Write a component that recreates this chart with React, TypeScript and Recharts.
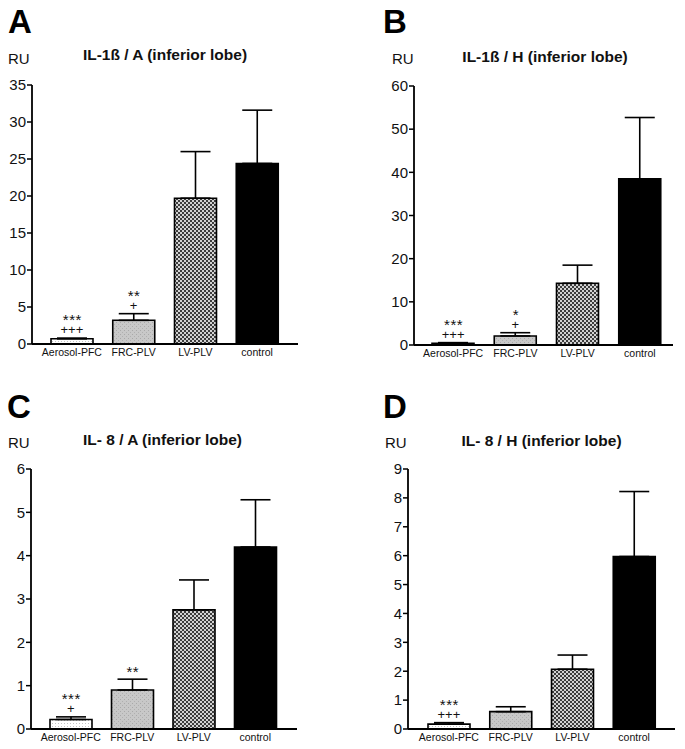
import { Bar, Cell, ComposedChart, ErrorBar, Line, XAxis, YAxis } from "recharts";

const categories = ["Aerosol-PFC", "FRC-PLV", "LV-PLV", "control"];

// panel A: IL-1ß / A
const il1bA = [0.7, 3.2, 19.7, 24.4];
const il1bAErr = [0.1, 0.9, 6.3, 7.2];
const il1bAStars = ["***", "**", "", ""];
const il1bAPlus = ["+++", "+", "", ""];
const il1bATicks = [0, 5, 10, 15, 20, 25, 30, 35];

// panel B: IL-1ß / H
const il1bH = [0.4, 2.1, 14.3, 38.5];
const il1bHErr = [0.15, 0.75, 4.2, 14.2];
const il1bHStars = ["***", "*", "", ""];
const il1bHPlus = ["+++", "+", "", ""];
const il1bHTicks = [0, 10, 20, 30, 40, 50, 60];

// panel C: IL-8 / A
const il8A = [0.22, 0.9, 2.75, 4.2];
const il8AErr = [0.06, 0.25, 0.69, 1.09];
const il8AStars = ["***", "**", "", ""];
const il8APlus = ["+", "", "", ""];
const il8ATicks = [0, 1, 2, 3, 4, 5, 6];

// panel D: IL-8 / H
const il8H = [0.17, 0.6, 2.07, 5.97];
const il8HErr = [0.05, 0.17, 0.49, 2.25];
const il8HStars = ["***", "", "", ""];
const il8HPlus = ["+++", "", "", ""];
const il8HTicks = [0, 1, 2, 3, 4, 5, 6, 7, 8, 9];

const ink = "#111";

function renderMark(p: any) {
  const { cx, cy, index, payload } = p;
  if (!payload || (!payload.stars && !payload.plus)) return <g key={`m-${index}`} />;
  const hasPlus = !!payload.plus;
  return (
    <g key={`m-${index}`} textAnchor="middle">
      {hasPlus && (
        <text x={cx} y={cy - 4} fontSize={13} fill={ink} stroke="none">
          {payload.plus}
        </text>
      )}
      <text
        x={cx + 0.5}
        y={hasPlus ? cy - 13 : cy - 2}
        fontSize={15}
        fill={ink}
        stroke="none"
        letterSpacing={0.5}
      >
        {payload.stars}
      </text>
    </g>
  );
}

type PanelProps = {
  id: string;
  left: number;
  top: number;
  width: number;
  margin: { top: number; right: number; left: number; bottom: number };
  yWidth: number;
  pad: { left: number; right: number };
  values: number[];
  errors: number[];
  stars: string[];
  plus: string[];
  ticks: number[];
};

function Panel({ id, left, top, width, margin, yWidth, pad, values, errors, stars, plus, ticks }: PanelProps) {
  const data = categories.map((name, i) => ({
    name,
    value: values[i],
    err: [0, errors[i]],
    top: values[i] + errors[i],
    stars: stars[i],
    plus: plus[i],
  }));
  const fills = [`url(#aer-${id})`, `url(#frc-${id})`, `url(#lv-${id})`, "#000"];

  return (
    <div style={{ position: "absolute", left, top }}>
      <ComposedChart width={width} height={300} data={data} margin={margin}>
        <defs>
          <pattern id={`aer-${id}`} width="3" height="3" patternUnits="userSpaceOnUse">
            <rect width="3" height="3" fill="#fff" />
            <rect x="1" y="1" width="1" height="1" fill="#c4c4c4" />
          </pattern>
          <pattern id={`frc-${id}`} width="4" height="4" patternUnits="userSpaceOnUse">
            <rect width="4" height="4" fill="#c8c8c8" />
            <rect x="0" y="0" width="1" height="1" fill="#a9a9a9" />
            <rect x="2" y="2" width="1" height="1" fill="#b0b0b0" />
          </pattern>
          <pattern id={`lv-${id}`} width="4" height="4" patternUnits="userSpaceOnUse">
            <rect width="4" height="4" fill="#d2d2d2" />
            <rect x="0" y="0" width="2" height="2" fill="#3c3c3c" />
            <rect x="2" y="2" width="2" height="2" fill="#3c3c3c" />
          </pattern>
        </defs>
        <XAxis
          dataKey="name"
          type="category"
          padding={pad}
          tickLine={false}
          tickSize={3}
          tickMargin={2}
          height={22}
          interval={0}
          axisLine={{ stroke: "#000", strokeWidth: 1.8 }}
          tick={{ fontSize: 10.5, fill: ink }}
        />
        <YAxis
          type="number"
          domain={[0, ticks[ticks.length - 1]]}
          ticks={ticks}
          interval={0}
          width={yWidth}
          tickSize={5}
          tickMargin={1}
          axisLine={{ stroke: "#000", strokeWidth: 1.8 }}
          tickLine={{ stroke: "#000", strokeWidth: 1.5 }}
          tick={{ fontSize: 15, fill: ink }}
        />
        <Bar dataKey="value" barSize={42} stroke="#000" strokeWidth={1.6} isAnimationActive={false}>
          {data.map((d, i) => (
            <Cell key={d.name} fill={fills[i]} />
          ))}
          <ErrorBar dataKey="err" width={15} stroke="#000" strokeWidth={1.6} direction="y" />
        </Bar>
        <Line
          dataKey="top"
          stroke="none"
          dot={renderMark}
          activeDot={false}
          legendType="none"
          isAnimationActive={false}
        />
      </ComposedChart>
    </div>
  );
}

const letterStyle = { position: "absolute" as const, fontSize: 33, fontWeight: 700, lineHeight: 1, color: "#000" };
const titleStyle = {
  position: "absolute" as const,
  width: 300,
  textAlign: "center" as const,
  fontSize: 15.5,
  fontWeight: 700,
  lineHeight: 1,
  color: ink,
};
const ruStyle = { position: "absolute" as const, fontSize: 15, lineHeight: 1, color: ink };

export default function App() {
  return (
    <div
      style={{
        position: "absolute",
        left: 0,
        top: 0,
        width: 685,
        height: 749,
        background: "#fff",
        fontFamily: "'Liberation Sans', Arial, sans-serif",
        overflow: "hidden",
      }}
    >
      <div style={{ ...letterStyle, left: 8, top: 5 }}>A</div>
      <div style={{ ...letterStyle, left: 383, top: 5 }}>B</div>
      <div style={{ ...letterStyle, left: 7, top: 390 }}>C</div>
      <div style={{ ...letterStyle, left: 383, top: 390 }}>D</div>

      <div style={{ ...titleStyle, left: 165 - 150, top: 47 }}>IL-1ß / A (inferior lobe)</div>
      <div style={{ ...titleStyle, left: 545 - 150, top: 49 }}>IL-1ß / H (inferior lobe)</div>
      <div style={{ ...titleStyle, left: 162.5 - 150, top: 432 }}>IL- 8 / A (inferior lobe)</div>
      <div style={{ ...titleStyle, left: 541.5 - 150, top: 433 }}>IL- 8 / H (inferior lobe)</div>

      <div style={{ ...ruStyle, left: 8, top: 50.5 }}>RU</div>
      <div style={{ ...ruStyle, left: 392, top: 50.5 }}>RU</div>
      <div style={{ ...ruStyle, left: 8, top: 434.5 }}>RU</div>
      <div style={{ ...ruStyle, left: 385, top: 434.5 }}>RU</div>

      <Panel
        id="a"
        left={0}
        top={70}
        width={310}
        margin={{ top: 15, right: 12, left: 0, bottom: 4 }}
        yWidth={32}
        pad={{ left: 9, right: 10 }}
        values={il1bA}
        errors={il1bAErr}
        stars={il1bAStars}
        plus={il1bAPlus}
        ticks={il1bATicks}
      />
      <Panel
        id="b"
        left={380}
        top={70}
        width={300}
        margin={{ top: 16, right: 7, left: 0, bottom: 3 }}
        yWidth={34}
        pad={{ left: 8, right: 2 }}
        values={il1bH}
        errors={il1bHErr}
        stars={il1bHStars}
        plus={il1bHPlus}
        ticks={il1bHTicks}
      />
      <Panel
        id="c"
        left={0}
        top={455}
        width={310}
        margin={{ top: 14, right: 13, left: 0, bottom: 4 }}
        yWidth={31}
        pad={{ left: 9, right: 11 }}
        values={il8A}
        errors={il8AErr}
        stars={il8AStars}
        plus={il8APlus}
        ticks={il8ATicks}
      />
      <Panel
        id="d"
        left={380}
        top={455}
        width={300}
        margin={{ top: 14, right: 5, left: 0, bottom: 4 }}
        yWidth={28}
        pad={{ left: 10, right: 10 }}
        values={il8H}
        errors={il8HErr}
        stars={il8HStars}
        plus={il8HPlus}
        ticks={il8HTicks}
      />
    </div>
  );
}
